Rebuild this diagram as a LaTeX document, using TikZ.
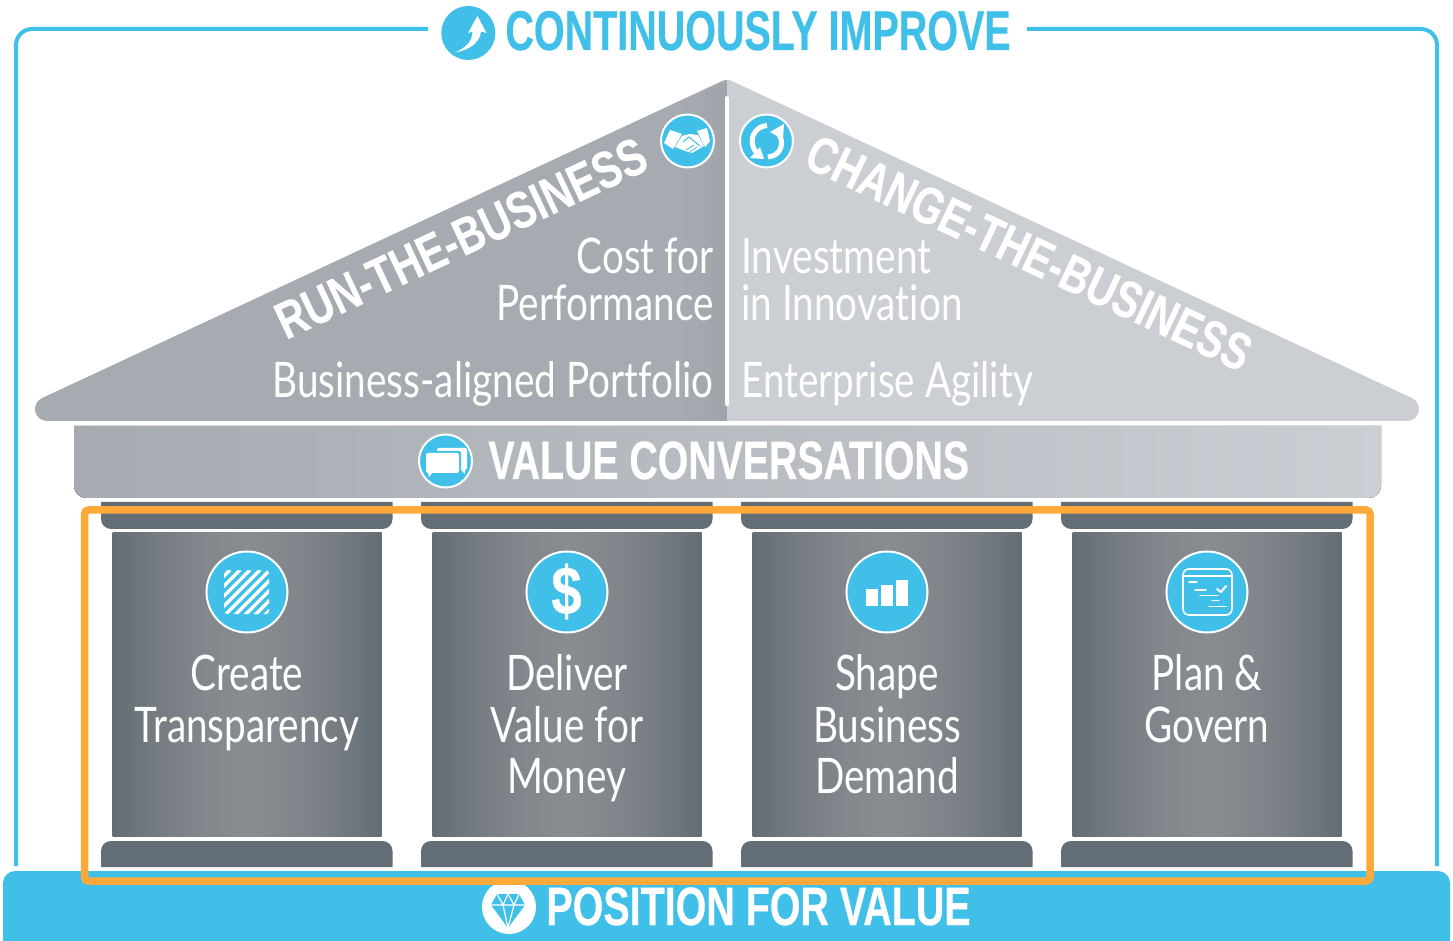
\documentclass[tikz,border=0pt]{standalone}
\usepackage{fontspec}
\setmainfont{Liberation Sans}
\newfontfamily\bodyf[FakeStretch=0.79,Ligatures=NoCommon]{Lato}
\newcommand\hfnt[2]{\fontspec[FakeStretch=#1,FakeBold=0.4]{Liberation Sans Bold}\fontsize{#2}{#2}\selectfont}
\definecolor{cblue}{HTML}{40C0E8}
\definecolor{corange}{HTML}{FFA93A}
\definecolor{cdark}{HTML}{626D75}
\definecolor{cmid}{HTML}{888D92}
\definecolor{croofl}{HTML}{A5ABB1}
\definecolor{croofr}{HTML}{CBCED3}
\definecolor{cp1}{HTML}{747B81}
\definecolor{cp2}{HTML}{82878C}
\pgfdeclarehorizontalshading{pilshade}{100bp}{color(0bp)=(cdark);color(25bp)=(cdark);color(33bp)=(cp1);color(42bp)=(cp2);color(50bp)=(cmid);color(58bp)=(cp2);color(67bp)=(cp1);color(75bp)=(cdark);color(100bp)=(cdark)}
\tikzset{
 frameline/.style={draw=cblue,line width=2pt,rounded corners=8pt},
 iconc/.style={circle,fill=cblue,draw=white,line width=1pt,inner sep=0pt,minimum size=26.5pt},
 pillarc/.style={circle,fill=cblue,draw=white,line width=1pt,inner sep=0pt,minimum size=40.5pt},
 capshape/.style={fill=cdark,draw=none},
 bodytext/.style={text=white,font=\bodyf\fontsize{24.5}{24.5}\selectfont,inner sep=0pt},
 headtext/.style={text=white,inner sep=0pt},
 iconl/.style={draw=white,line width=.6pt,line cap=round,fill=none},
}
\begin{document}
\begin{tikzpicture}[x=0.5pt,y=-0.5pt]
\useasboundingbox (0,0) rectangle (1453,941);
% frame
\coordinate (fl) at (428,29);\coordinate (fr) at (1027,29);
\coordinate (flb) at (16,866);\coordinate (frb) at (1437,866);
\draw[frameline] (fl) -| (flb);
\draw[frameline] (fr) -| (frb);
% title
\node[iconc,draw=none,minimum size=27pt] (imp) at (468.3,33) {};
\fill[white] (477.5,16) -- (486.5,33) -- (481,31.5) .. controls (480,42) and (470,50) .. (455,52.5)
  .. controls (465,48) and (472.5,42) .. (472.5,31.5) -- (468,33) -- cycle;
\node[text=cblue,font=\hfnt{0.705}{28},anchor=base west,inner sep=0pt] (title) at (505,50) {CONTINUOUSLY IMPROVE};
% roof
\begin{scope}
\clip (0,0) rectangle (727,425);
\fill[croofl,draw=croofl,line width=12pt,line join=round] (47,409) -- (727,92) -- (1407,409) -- cycle;
\shade[left color=croofl,right color=croofl!96!black,draw=none] (680,104) -- (718,85) -- (727,83) -- (727,421) -- (680,421) -- cycle;
\end{scope}
\begin{scope}
\clip (727,0) rectangle (1453,425);
\fill[croofr,draw=croofr,line width=12pt,line join=round] (47,409) -- (727,92) -- (1407,409) -- cycle;
\end{scope}
\draw[white,line width=2pt,line cap=round] (727,98) -- (727,404);
% roof labels
\node[headtext,font=\hfnt{0.78}{26},rotate=25.2] (run) at (461,238) {RUN-THE-BUSINESS};
\node[headtext,font=\hfnt{0.77}{26},rotate=-25.2] (chg) at (1029,253) {CHANGE-THE-BUSINESS};
\node[bodytext,anchor=base east] (cost) at (714,274) {Cost for};
\node[bodytext,anchor=base east] (perf) at (714,321) {Performance};
\node[bodytext,anchor=base east] (bap) at (714,398) {Business-aligned Portfolio};
\node[bodytext,anchor=base west] (inv) at (741,274) {Investment};
\node[bodytext,anchor=base west] (ino) at (741,321) {in Innovation};
\node[bodytext,anchor=base west] (ent) at (741,398) {Enterprise Agility};
% handshake icon
\node[iconc] (hand) at (687.5,141) {};
\fill[white] (670,130) -- (682,134) -- (673,149) -- (664,143) -- cycle;
\fill[white] (697,131) -- (707,128) -- (710,141) -- (705,147) -- cycle;
\fill[white] (682,136) -- (690,134) -- (698,135) -- (704,146) -- (692,153) -- (685,151) -- (675,147) -- cycle;
\draw[cblue,line width=.5pt] (683,142) -- (689,137) -- (700,146);
\draw[cblue,line width=.4pt] (686,150) -- (694,145) (690,152) -- (697,147);
% sync icon
\node[iconc] (sync) at (766.5,141) {};
\draw[white,line width=2.5pt] (767,125.5) .. controls (755,126) and (747,140) .. (756,152);
\draw[white,line width=2.5pt] (768,157) .. controls (781,156) and (786,142) .. (777,132);
\fill[white] (750,158) -- (764,159) -- (760,147) -- cycle;
\fill[white] (784,124) -- (770,132) -- (783,139) -- cycle;
% bar
\fill[left color=croofl,right color=croofr] (74,426) [rounded corners=6pt] -- (74,498) -- (1381,498) [sharp corners] -- (1381,426) -- cycle;
\node[iconc] (chat) at (445.5,461) {};
\fill[white,rounded corners=1pt] (437,448) rectangle (467,470);
\fill[white] (460,469) -- (465,469) -- (465,474) -- cycle;
\fill[cblue,rounded corners=1pt] (424,451) rectangle (461,475);
\fill[white,rounded corners=1pt] (426,453) rectangle (459,473);
\fill[white] (428,472) -- (433,472) -- (429,477) -- cycle;
\node[headtext,anchor=base west,font=\hfnt{0.727}{27}] (vc) at (488,479) {VALUE CONVERSATIONS};
% base
\fill[cblue] (3,941) [rounded corners=6pt] -- (3,871) -- (1450,871) [sharp corners] -- (1450,941) -- cycle;
% pillars
\foreach \px in {101,421,741,1061}{
  \fill[capshape] (\px,502) [rounded corners=5pt] -- (\px,529) -- (\px+291.5,529) [sharp corners] -- (\px+291.5,502) -- cycle;
  \fill[capshape] (\px,867) [rounded corners=5pt] -- (\px,841) -- (\px+291.5,841) [sharp corners] -- (\px+291.5,867) -- cycle;
  \shade[shading=pilshade] (\px+11.5,533) rectangle (\px+280.5,836);
}
% pillar icons
\node[pillarc] (i1) at (247,592) {};
\begin{scope}
\clip[rounded corners=1.5pt] (224,570) rectangle (269,614);
\foreach \d in {-50,-40,...,50}{\draw[white,line width=1.7pt] (224+\d,616) -- (270+\d,570);}
\end{scope}
\node[pillarc] (i2) at (567,592) {};
\node[text=white,font=\hfnt{0.8}{34},inner sep=0pt] (dol) at (566.5,591.5) {\$};
\node[pillarc] (i3) at (887,592) {};
\fill[white] (866,589) rectangle (878,606);
\fill[white] (881,585) rectangle (893,606);
\fill[white] (896,580) rectangle (908,606);
\node[pillarc] (i4) at (1207,592) {};
\draw[white,line width=.8pt,rounded corners=3pt] (1183,569) rectangle (1232,615);
\draw[white,line width=.8pt] (1183,576) -- (1232,576);
\draw[iconl] (1189,582) -- (1197,582) (1195,590) -- (1206,590) (1200,595.5) -- (1218,595.5) (1212,600.5) -- (1219,600.5) (1209,606.5) -- (1226,606.5);
\draw[white,line width=1pt,line cap=round] (1217,589) -- (1221,592) -- (1226,586);
% pillar text
\foreach \nm/\tx/\ty/\txt in {c1/247/690/Create,t1/247/742/Transparency,d1/567/690/Deliver,d2/567/742/Value for,d3/567/793/Money,s1/887/690/Shape,s2/887/742/Business,s3/887/793/Demand,p1/1207/690/Plan \&,p2/1207/742/Govern}{
  \node[bodytext,anchor=base] (\nm) at (\tx,\ty) {\txt};
}
% base text
\node[circle,fill=white,inner sep=0pt,minimum size=27pt] (gem) at (509,907) {};
\fill[cblue] (491,905) -- (497,894) -- (519,894) -- (525,905) -- (508,928) -- cycle;
\draw[white,line width=.6pt] (491,905) -- (525,905) (497,894) -- (503,905) -- (508,894) -- (514,905) -- (519,894) (503,905) -- (508,928) -- (514,905);
\node[headtext,anchor=base west,font=\hfnt{0.73}{27}] (pos) at (546,925) {POSITION FOR VALUE};
% orange
\draw[corange,line width=3.75pt,rounded corners=2pt] (84.5,510) rectangle (1370,881);
\end{tikzpicture}
\end{document}
